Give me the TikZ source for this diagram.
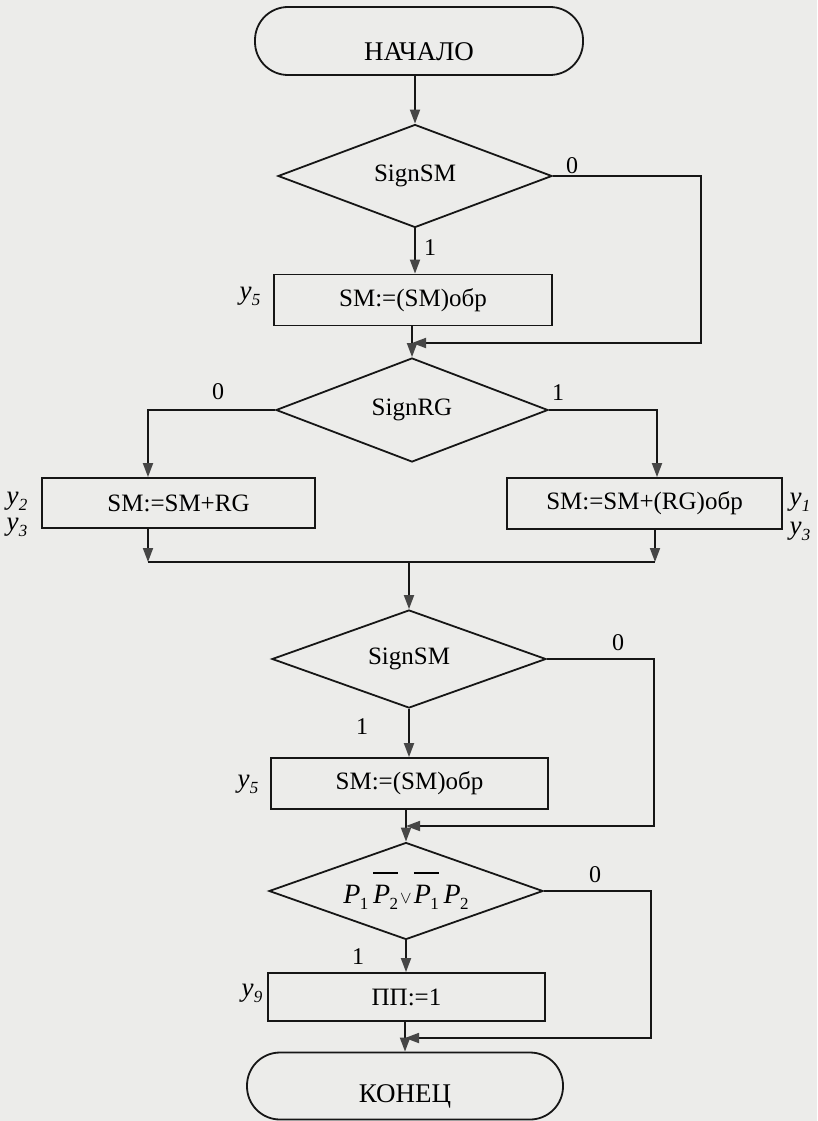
\documentclass[tikz,border=0pt]{standalone}
\usepackage{fontspec}
\setmainfont{Liberation Serif}
\usetikzlibrary{shapes.geometric,arrows.meta}

\definecolor{paper}{RGB}{236,236,234}
\definecolor{ink}{RGB}{22,22,22}
\definecolor{tipgray}{RGB}{70,70,70}

% signal label such as y_5
\newcommand\ysig[1]{\textit{y}\kern0.2pt\raisebox{-0.5ex}{\fontsize{17}{17}\selectfont\textit{#1}}}
% predicate variable P_i
\newcommand\pvar[1]{\textit{P}\kern-0.5pt\raisebox{-0.5ex}{\fontsize{17}{17}\selectfont #1}}
% negation bar over a piece of text
\newcommand\negbar[1]{\leavevmode\vbox{\hrule height 1.3pt\kern 11pt\hbox{#1}}}

\begin{document}
\begin{tikzpicture}[x=1pt,y=-1pt,
  font=\fontsize{25}{30}\selectfont,
  flow/.style={draw=ink, line width=1.8pt},
  arr/.style={flow, -{Triangle[length=14pt,width=10pt,color=tipgray]}},
  blockbox/.style={flow, rectangle, inner sep=0pt},
  decision/.style={flow, diamond, aspect=2.8, inner sep=0pt},
  terminal/.style={flow, rectangle, rounded corners=33pt, inner sep=0pt},
  branchlbl/.style={font=\fontsize{24}{28}\selectfont, inner sep=0pt},
  siglbl/.style={font=\fontsize{27}{30}\selectfont, inner sep=0pt},
  txt/.style={font=\fontsize{27}{30}\selectfont, inner sep=0pt}]

\path[fill=paper, use as bounding box] (0,0) rectangle (817,1121);

% start
\node[terminal, minimum width=328pt, minimum height=68pt] (start) at (419,41) {};
\node[txt] (starttext) at (419,52) {НАЧАЛО};

% first sign test of the sum
\node[decision, minimum width=274pt, minimum height=103pt] (d1) at (415,176) {SignSM};
\node[blockbox, minimum width=278pt, minimum height=51pt] (b1) at (413,300) {SM:=(SM)обр};

% sign of the register
\node[decision, minimum width=272pt, minimum height=104pt] (d2) at (412,410) {SignRG};
\node[blockbox, minimum width=273pt, minimum height=50pt] (b2) at (178.5,503) {SM:=SM+RG};
\node[blockbox, minimum width=275pt, minimum height=51pt] (b3) at (644.5,503.5) {SM:=SM+(RG)обр};

% second sign test of the sum
\node[decision, minimum width=274pt, minimum height=98pt] (d3) at (409,659) {SignSM};
\node[blockbox, minimum width=277pt, minimum height=51pt] (b4) at (409.5,783.5) {SM:=(SM)обр};

% overflow condition
\node[decision, minimum width=274pt, minimum height=97pt, font=\fontsize{28}{30}\selectfont] (d4) at (406,891)
  {\pvar{1}\,\negbar{\pvar{2}}\kern2pt{\fontsize{17}{17}\selectfont$\vee$}\kern2pt\negbar{\pvar{1}}\,\pvar{2}};
\node[blockbox, minimum width=277pt, minimum height=48pt] (b5) at (406.5,997) {ПП:=1};

% end
\node[terminal, minimum width=316pt, minimum height=67pt] (finish) at (405,1086) {};
\node[txt] (finishtext) at (405,1096) {КОНЕЦ};

% joints
\coordinate (k1) at (701,343);
\coordinate (mL) at (148,562);
\coordinate (mR) at (655,562);
\coordinate (k2) at (654,826);
\coordinate (k3) at (651,1038);

% connectors
\draw[arr] (d1.north |- start.south) -- (d1.north);
\draw[arr] (d1.south) -- (d1.south |- b1.north);
\draw[arr] (d1.east) -| (k1) -- (d2.north |- k1);
\draw[arr] (b1.south -| d2.north) -- (d2.north);
\draw[arr] (d2.west) -| ([xshift=-30.5pt]b2.north);
\draw[arr] (d2.east) -| ([xshift=12.5pt]b3.north);
\draw[arr] ([xshift=-30.5pt]b2.south) -- (mL);
\draw[arr] ([xshift=10.5pt]b3.south) -- (mR);
\draw[flow] (mL) -- (mR);
\draw[arr] (d3.north |- mL) -- (d3.north);
\draw[arr] (d3.south) -- (d3.south |- b4.north);
\draw[arr] (d3.east) -| (k2) -- (d4.north |- k2);
\draw[arr] (b4.south -| d4.north) -- (d4.north);
\draw[arr] (d4.south) -- (d4.south |- b5.north);
\draw[arr] (d4.east) -| (k3) -- (finish.north |- k3);
\draw[arr] (b5.south -| finish.north) -- (finish.north);

% branch labels
\node[branchlbl] (d1zero) at (572,166) {0};
\node[branchlbl] (d1one) at (430,248) {1};
\node[branchlbl] (d2zero) at (218,392) {0};
\node[branchlbl] (d2one) at (558,393) {1};
\node[branchlbl] (d3zero) at (618,643) {0};
\node[branchlbl] (d3one) at (362,727) {1};
\node[branchlbl] (d4zero) at (595,875) {0};
\node[branchlbl] (d4one) at (358,957) {1};

% output signals
\node[siglbl] (s1) at (250,296) {\ysig{5}};
\node[siglbl] (s2) at (17,501) {\ysig{2}};
\node[siglbl] (s3) at (17,527) {\ysig{3}};
\node[siglbl] (s4) at (800,502) {\ysig{1}};
\node[siglbl] (s5) at (800,531) {\ysig{3}};
\node[siglbl] (s6) at (248,784) {\ysig{5}};
\node[siglbl] (s7) at (252,993) {\ysig{9}};
\end{tikzpicture}
\end{document}
